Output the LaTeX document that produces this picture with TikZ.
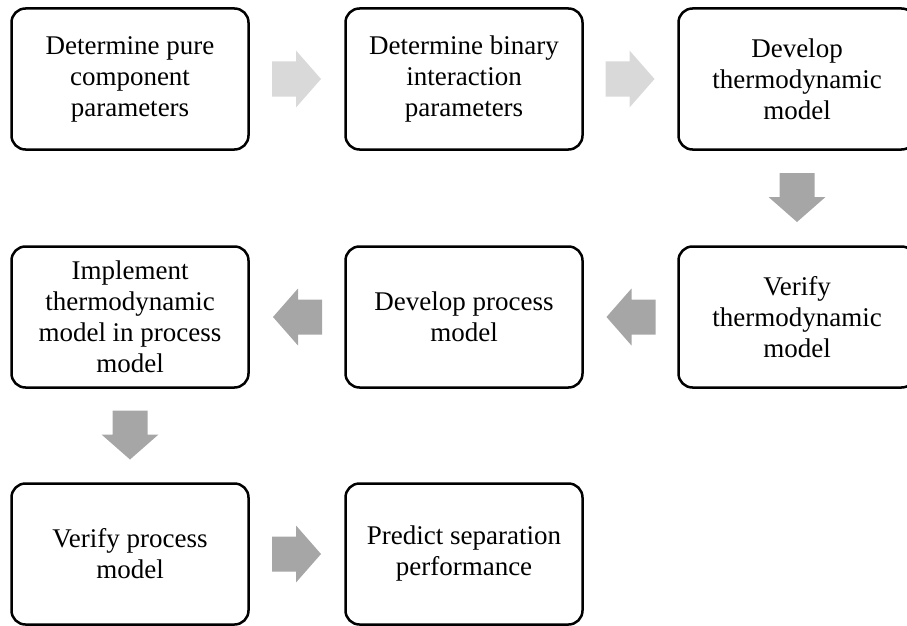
\documentclass[tikz,border=0pt]{standalone}
\usepackage{fontspec}
\setmainfont{Liberation Serif}
\usetikzlibrary{calc}
\definecolor{lightarrow}{RGB}{217,217,217}
\definecolor{darkarrow}{RGB}{166,166,166}
\tikzset{
  stepbox/.style={draw=black, line width=2.5pt, rounded corners=14pt, fill=white,
    minimum width=237pt, minimum height=141pt, align=center, inner sep=4pt,
    font=\fontsize{27pt}{31pt}\selectfont},
  pics/blockarrow/.style={code={
    \fill[#1] (-25,-17.5) -- (-1,-17.5) -- (-1,-28.5) -- (24,0) -- (-1,28.5)
      -- (-1,17.5) -- (-25,17.5) -- cycle;}}
}
\begin{document}
\begin{tikzpicture}[x=1pt,y=1pt]
  \useasboundingbox (0,0) rectangle (907,-626);
  \begin{scope}
    \clip (0,0) rectangle (907,-626);
    % first row
    \node[stepbox] (pure)   at (130,-79)  {Determine pure\\component\\parameters};
    \node[stepbox] (binary) at (464,-79)  {Determine binary\\interaction\\parameters};
    \node[stepbox] (devtd)  at (797,-79)  {Develop\\thermodynamic\\model};
    % second row
    \node[stepbox] (vertd)  at (797,-317) {Verify\\thermodynamic\\model};
    \node[stepbox] (devpm)  at (464,-317) {Develop process\\model};
    \node[stepbox] (impl)   at (130,-317) {Implement\\thermodynamic\\model in process\\model};
    % third row
    \node[stepbox] (verpm)  at (130,-554) {Verify process\\model};
    \node[stepbox] (pred)   at (464,-554) {Predict separation\\performance};
  \end{scope}
  % block arrows between consecutive steps
  \pic at ($(pure.east)!0.5!(binary.west)$) {blockarrow=lightarrow};
  \pic at ($(binary.east)!0.5!(devtd.west)$) {blockarrow=lightarrow};
  \pic[rotate=-90] at ($(devtd.south)!0.5!(vertd.north)$) {blockarrow=darkarrow};
  \pic[rotate=180] at ($(vertd.west)!0.5!(devpm.east)$) {blockarrow=darkarrow};
  \pic[rotate=180] at ($(devpm.west)!0.5!(impl.east)$) {blockarrow=darkarrow};
  \pic[rotate=-90] at ($(impl.south)!0.5!(verpm.north)$) {blockarrow=darkarrow};
  \pic at ($(verpm.east)!0.5!(pred.west)$) {blockarrow=darkarrow};
\end{tikzpicture}
\end{document}
